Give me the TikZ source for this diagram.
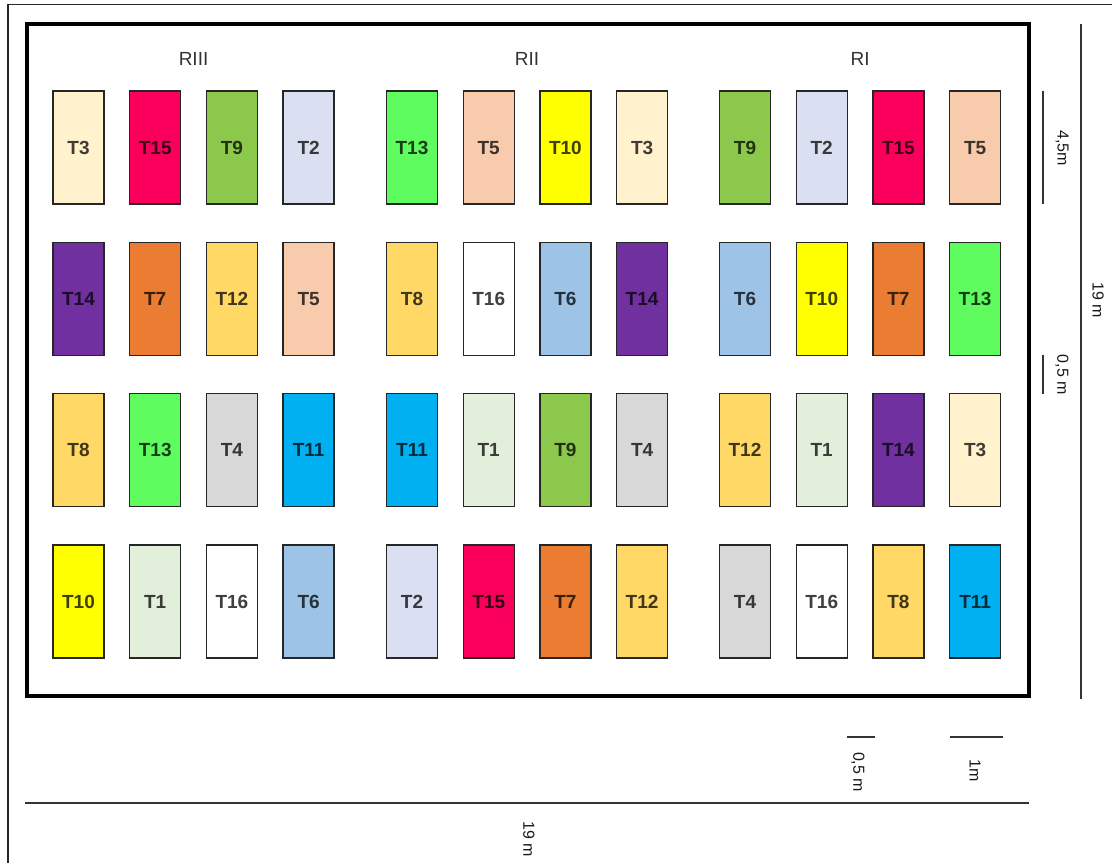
\documentclass[tikz,border=0pt]{standalone}
\usepackage{fontspec}
\setmainfont{Liberation Sans}
\definecolor{c1}{HTML}{E2EFDA}
\definecolor{c2}{HTML}{DAE0F2}
\definecolor{c3}{HTML}{FFF2CC}
\definecolor{c4}{HTML}{D8D8D8}
\definecolor{c5}{HTML}{F8CBAD}
\definecolor{c6}{HTML}{9DC3E6}
\definecolor{c7}{HTML}{EA7D32}
\definecolor{c8}{HTML}{FFD866}
\definecolor{c9}{HTML}{8CC84B}
\definecolor{c10}{HTML}{FFFF00}
\definecolor{c11}{HTML}{00B0F0}
\definecolor{c12}{HTML}{FFD866}
\definecolor{c13}{HTML}{5EFC5E}
\definecolor{c14}{HTML}{7030A0}
\definecolor{c15}{HTML}{FA005C}
\definecolor{c16}{HTML}{FFFFFF}
\newcommand\plotgroup[4]{%
  \node[grouplabel] (lbl-#1) at ({#2+25.5+76.7*1.5}, 59) {#3};
  \foreach \t [count=\k from 0] in {#4} {
    \pgfmathtruncatemacro\rr{int(\k/4)}
    \pgfmathtruncatemacro\cc{mod(\k,4)}
    \node[tile, fill=c\t, text=c\t!25!black] (#1-\k) at ({#2+25.5+76.7*\cc}, {147.5+151.3*\rr}) {T\t};
  }%
}
\begin{document}
\begin{tikzpicture}[x=1pt,y=-1pt,
  tile/.style={draw=black!85, line width=1.4pt, minimum width=51pt, minimum height=113pt, inner sep=0pt, text height=13.7pt, text depth=0pt, font=\bfseries\fontsize{19}{19}\selectfont},
  grouplabel/.style={font=\fontsize{19}{19}\selectfont, text=black!80},
  dimlabel/.style={font=\fontsize{16}{16}\selectfont, rotate=-90, text=black!90, inner sep=0pt},
  dimline/.style={line width=1.5pt, draw=black!80},
  frame/.style={line width=4pt, draw=black}]
\useasboundingbox (0,0) rectangle (1112,863);
% outer thin frame (top and left visible)
\coordinate (o1) at (8,863);
\coordinate (o2) at (8,4.5);
\coordinate (o3) at (1112,4.5);
\draw[line width=1.8pt, draw=black!85] (o1) -- (o2) -- (o3);
% thick field frame
\coordinate (f1) at (27,24);
\coordinate (f2) at (1029,696);
\draw[frame] (f1) rectangle (f2);
% groups
\plotgroup{g3}{53}{RIII}{3,15,9,2,14,7,12,5,8,13,4,11,10,1,16,6}
\plotgroup{g2}{386.5}{RII}{13,5,10,3,8,16,6,14,11,1,9,4,2,15,7,12}
\plotgroup{g1}{719.5}{RI}{9,2,15,5,6,10,7,13,12,1,14,3,4,16,8,11}
% right dimensions
\coordinate (r19a) at (1081,24);
\coordinate (r19b) at (1081,699);
\draw[dimline] (r19a) -- (r19b);
\node[dimlabel] (t19r) at (1098,300) {19 m};
\coordinate (r45a) at (1043,91);
\coordinate (r45b) at (1043,204);
\draw[dimline] (r45a) -- (r45b);
\node[dimlabel] (t45) at (1062,148) {4,5m};
\coordinate (r05a) at (1043,355);
\coordinate (r05b) at (1043,394);
\draw[dimline] (r05a) -- (r05b);
\node[dimlabel] (t05r) at (1062,375) {0,5 m};
% bottom dimensions
\coordinate (b19a) at (25,803);
\coordinate (b19b) at (1029,803);
\draw[dimline, line width=2pt] (b19a) -- (b19b);
\node[dimlabel] (t19b) at (529,839) {19 m};
\coordinate (b05a) at (847,737);
\coordinate (b05b) at (875,737);
\draw[dimline] (b05a) -- (b05b);
\node[dimlabel] (t05b) at (858,772) {0,5 m};
\coordinate (b1a) at (950,737);
\coordinate (b1b) at (1003,737);
\draw[dimline] (b1a) -- (b1b);
\node[dimlabel] (t1) at (975,771) {1m};
\end{tikzpicture}
\end{document}
